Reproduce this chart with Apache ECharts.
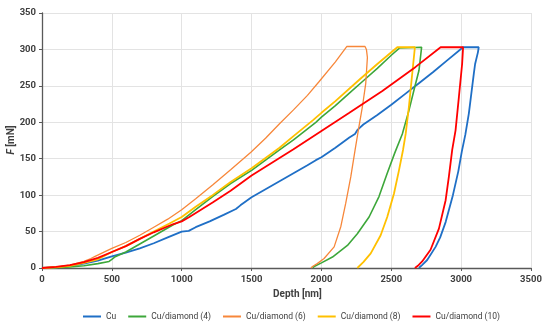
<!DOCTYPE html>
<html>
<head>
<meta charset="utf-8">
<script src="https://cdn.jsdelivr.net/npm/echarts@6/dist/echarts.min.js"></script>
<style>
html,body{margin:0;padding:0;background:#fff;}
#chart{width:550px;height:326px;}
</style>
</head>
<body>
<div id="chart"></div>
<script>
// ---- data ----
const seriesNames = ['Cu', 'Cu/diamond (4)', 'Cu/diamond (6)', 'Cu/diamond (8)', 'Cu/diamond (10)'];
const xTicks = [0, 500, 1000, 1500, 2000, 2500, 3000, 3500];
const yTicks = [0, 50, 100, 150, 200, 250, 300, 350];

const cuDepth = [0,100,200,300,400,500,600,700,800,900,1000,1050,1100,1200,1300,1388,1420,1500,1600,1700,1800,1900,1960,2000,2100,2200,2240,2260,2300,2400,2500,2600,2700,2800,2900,3014,3126,3120,3100,3091,3070,3055,3030,3005,2980,2941,2889,2850,2817,2757,2720,2703,2698];
const cuForce = [0,1,3,6,10,16,21,27,34,42,50,51,56,64,73,81,86,97,108,119,130,141,148,152,165,179,184,190,197,210,224,239,254,269,285,303,303,296,280,267,235,212,183,160,133,100,63,42,29,11,4,1,0];

const d4Depth = [0,100,200,300,400,480,500,520,600,700,800,936,1000,1100,1221,1350,1500,1600,1700,1800,1960,2000,2100,2200,2300,2400,2500,2560,2574,2717,2698,2662,2626,2579,2525,2471,2412,2341,2257,2186,2079,2000,1948,1938];
const d4Force = [0,0.5,1.5,3,6,9,12,15,22,33,44,59,65,80,98,116,134,148,162,176,200,207,223,240,257,274,292,302,303,303,271,244,216,184,158,130,98,70,47,31,15,7,2,0];

const d6Depth = [0,100,200,300,350,380,500,600,700,800,900,1000,1100,1221,1350,1495,1600,1700,1800,1900,1984,2100,2181,2312,2322,2329,2317,2293,2264,2241,2210,2174,2139,2091,2019,1970,1936,1925];
const d6Force = [0,1.5,4,9,13,16,27,35,45,56,67,80,95,114,135,159,178,198,217,237,256,283,304,304,300,289,253,221,189,162,125,89,57,29,13,6,2,0];

const d8Depth = [0,100,200,300,400,500,600,700,800,912,1000,1100,1221,1350,1500,1600,1700,1800,1940,2000,2100,2269,2400,2543,2669,2650,2626,2603,2584,2555,2519,2471,2424,2353,2300,2257];
const d8Force = [0,1,3,7,12,22,30,40,50,61,70,84,100,118,137,151,165,181,203,213,229,258,280,303,303,267,221,184,162,134,102,70,45,20,8,0];

const d10Depth = [0,100,200,300,400,500,600,700,800,936,1000,1055,1221,1350,1500,1700,1800,2000,2200,2436,2674,2853,3014,3007,2984,2960,2936,2912,2889,2841,2781,2721,2690,2669];
const d10Force = [0,1.5,4,8,14,22,30,40,49,60,64,70,90,106,127,151,163,188,213,243,276,303,303,280,235,189,162,125,93,54,25,9,3,0];

const colors = ['#1F6FC6', '#3DA73A', '#F7873A', '#FFC000', '#FF0000'];
const widths = [1.8, 1.6, 1.3, 1.8, 1.8];

// ---- chart ----
function zip(xs, ys){ return xs.map((x,i)=>[x, ys[i]]); }
const allData = [
  zip(cuDepth, cuForce),
  zip(d4Depth, d4Force),
  zip(d6Depth, d6Force),
  zip(d8Depth, d8Force),
  zip(d10Depth, d10Force)
];

const chart = echarts.init(document.getElementById('chart'), null, {renderer:'canvas'});
const labelFont = 'Roboto';
chart.setOption({
  animation: false,
  backgroundColor: '#fff',
  grid: {left: 42, right: 19, top: 13, bottom: 58, containLabel: false, outerBoundsMode: 'none'},
  xAxis: {
    type: 'value', min: xTicks[0], max: xTicks[xTicks.length-1], interval: 500,
    axisLine: {show: true, lineStyle: {color: '#595959', width: 1.3}},
    axisTick: {show: true, length: 3, lineStyle: {color: '#595959'}},
    axisLabel: {color: '#404040', fontSize: 9.5, fontWeight: 'bold', fontFamily: labelFont, margin: 7,
      formatter: v => String(v)},
    splitLine: {show: true, lineStyle: {color: '#E3E3E3', width: 1}}
  },
  yAxis: {
    type: 'value', min: yTicks[0], max: yTicks[yTicks.length-1], interval: 50,
    axisLine: {show: true, lineStyle: {color: '#595959', width: 1.3}},
    axisTick: {show: true, length: 3, lineStyle: {color: '#595959'}},
    axisLabel: {color: '#404040', fontSize: 9.5, fontWeight: 'bold', fontFamily: labelFont, margin: 6,
      formatter: v => String(v)},
    splitLine: {show: true, lineStyle: {color: '#E3E3E3', width: 1}}
  },
  graphic: [{
    type: 'text', left: 273, top: 289,
    style: {text: 'Depth [nm]', fill: '#404040', font: 'bold 10px ' + labelFont, textAlign: 'center'}
  }, {
    type: 'text', x: 11, y: 140, rotation: Math.PI / 2,
    style: {
      text: '{i|F} [mN]', fill: '#404040', font: 'bold 10px ' + labelFont,
      align: 'center', verticalAlign: 'middle',
      rich: {i: {fontStyle: 'italic', fontWeight: 'bold', fontSize: 10, fontFamily: labelFont, fill: '#404040'}}
    }
  }],
  legend: {
    left: 78, top: 307, width: 480,
    icon: 'rect', itemWidth: 18, itemHeight: 2, itemGap: 12,
    textStyle: {color: '#404040', fontSize: 8.5, fontFamily: labelFont},
    data: seriesNames
  },
  series: seriesNames.map((n, i) => ({
    name: n, type: 'line', data: allData[i],
    showSymbol: false, symbol: 'none',
    lineStyle: {color: colors[i], width: widths[i]},
    itemStyle: {color: colors[i]},
    z: 2 + i
  }))
});
</script>
</body>
</html>
